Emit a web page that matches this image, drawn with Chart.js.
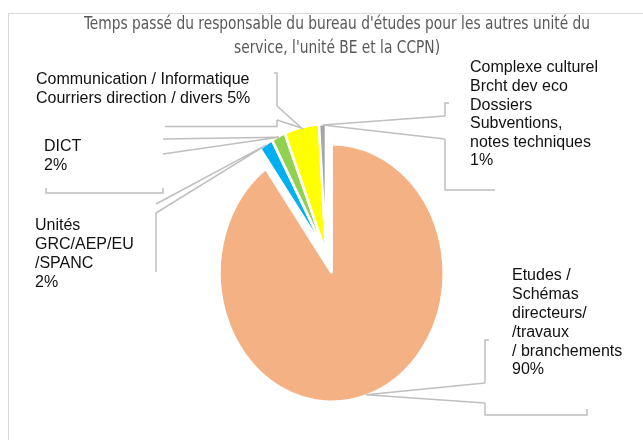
<!DOCTYPE html>
<html>
<head>
<meta charset="utf-8">
<script src="https://cdn.jsdelivr.net/npm/chart.js@4.4.0/dist/chart.umd.min.js"></script>
<style>
  html, body { margin: 0; padding: 0; background: #ffffff; }
</style>
</head>
<body>
<canvas id="chart_temps_be" width="643" height="440"></canvas>
<script>
// slices, clockwise from 12 o'clock
const categories = [
  "Etudes / Schémas directeurs/ /travaux / branchements",
  "Unités GRC/AEP/EU /SPANC",
  "DICT",
  "Communication / Informatique Courriers direction / divers",
  "Complexe culturel Brcht dev eco Dossiers Subventions, notes techniques"
];
const percentValues = [90, 2, 2, 5, 1];
// label text as it is broken in the callouts (percent is added from the data)
const labelLines = [
  ["Etudes /", "Schémas", "directeurs/", "/travaux", "/ branchements"],
  ["Unités", "GRC/AEP/EU", "/SPANC"],
  ["DICT"],
  ["Communication / Informatique", "Courriers direction / divers"],
  ["Complexe culturel", "Brcht dev eco", "Dossiers", "Subventions,", "notes techniques"]
];
const pctOnLastLine = [false, false, false, true, false];
const titleLines = [
  "Temps passé du responsable du bureau d'études pour les autres unité du",
  "service, l'unité BE et la CCPN)"
];

const sliceColors = ["#F4B183", "#00B0F0", "#92D050", "#FFFF00", "#A5A5A5"];

// callout boxes (Excel style wedge callouts), only the visible bits of the frame
const callouts = [
  { x: 512, y: 276, step: 18.8,
    before: [[489, 340], [485, 340], [485, 383]],
    after: [[485, 403], [485, 415], [587, 415], [587, 409]] },
  { x: 35, y: 226, step: 18.7,
    before: [[156, 204]],
    after: [[156, 213], [156, 272]] },
  { x: 44, y: 147, step: 18.5,
    before: [[163, 139]],
    after: [[163, 154]],
    extra: [[46, 188], [46, 193], [163, 193], [163, 188]] },
  { x: 36, y: 80, step: 19,
    before: [[274, 73], [277, 73], [277, 106]],
    after: [[277, 120], [277, 126.5], [165, 126.5]] },
  { x: 470, y: 68, step: 18.6,
    before: [[449, 103], [445, 103], [445, 116]],
    after: [[445, 139], [445, 190], [495, 190]] }
];

function polyline(c, pts) {
  if (!pts || pts.length < 2) return;
  c.beginPath();
  c.moveTo(pts[0][0], pts[0][1]);
  for (let k = 1; k < pts.length; k++) c.lineTo(pts[k][0], pts[k][1]);
  c.stroke();
}

const pieExtras = {
  id: "pieExtras",
  // explode slices: shift the arc centre along its bisector
  afterDatasetUpdate(chart, args, opts) {
    args.meta.data.forEach((arc, i) => {
      const d = opts.explode[i] || 0;
      if (!d) return;
      const mid = (arc.startAngle + arc.endAngle) / 2;
      arc.x += Math.cos(mid) * d;
      arc.y += Math.sin(mid) * d;
    });
  },
  // the original pie is a bit narrower than tall
  beforeDatasetsDraw(chart, args, opts) {
    const c = chart.ctx;
    const cx = (chart.chartArea.left + chart.chartArea.right) / 2;
    c.save();
    c.translate(cx, 0);
    c.scale(opts.squeezeX, 1);
    c.translate(-cx, 0);
  },
  afterDatasetsDraw(chart) {
    chart.ctx.restore();
  },
  afterDraw(chart, args, opts) {
    const c = chart.ctx;
    const cx = (chart.chartArea.left + chart.chartArea.right) / 2;
    const meta = chart.getDatasetMeta(0);
    const values = chart.data.datasets[0].data;

    c.save();
    // outer frame
    c.strokeStyle = "#d9d9d9";
    c.lineWidth = 1;
    c.strokeRect(8.5, 13.5, 700, 500);

    // title, condensed
    c.fillStyle = "#595959";
    c.font = "17px 'Liberation Sans Narrow', 'DejaVu Sans Condensed', 'Liberation Sans', sans-serif";
    c.textBaseline = "middle";
    c.textAlign = "center";
    const sc = Math.min(1, 506 / c.measureText(titleLines[0]).width);
    titleLines.forEach((t, k) => {
      c.save();
      c.translate(337, 25 + k * 24);
      c.scale(sc, 1);
      c.fillText(t, 0, 0);
      c.restore();
    });

    // callouts
    c.strokeStyle = "#bfbfbf";
    c.lineWidth = 1.5;
    c.lineJoin = "miter";
    meta.data.forEach((arc, i) => {
      const co = callouts[i];
      const mid = (arc.startAngle + arc.endAngle) / 2;
      const r = arc.outerRadius - 1;
      const tip = [cx + (arc.x + Math.cos(mid) * r - cx) * opts.squeezeX, arc.y + Math.sin(mid) * r];
      const b0 = co.before[co.before.length - 1];
      const a0 = co.after[0];
      polyline(c, co.before);
      polyline(c, [b0, tip, a0]);
      polyline(c, co.after);
      polyline(c, co.extra);
    });

    // label text
    c.fillStyle = "#111111";
    c.font = "16px 'Liberation Sans', Arial, sans-serif";
    c.textAlign = "left";
    c.textBaseline = "middle";
    labelLines.forEach((lines, i) => {
      const co = callouts[i];
      const txt = lines.slice();
      const pct = values[i] + "%";
      if (pctOnLastLine[i]) txt[txt.length - 1] += " " + pct;
      else txt.push(pct);
      txt.forEach((t, k) => c.fillText(t, co.x, co.y + k * co.step));
    });
    c.restore();
  }
};

const ctx = document.getElementById("chart_temps_be").getContext("2d");
const myChart = new Chart(ctx, {
  type: "pie",
  data: {
    labels: categories,
    datasets: [
      {
        data: percentValues,
        backgroundColor: sliceColors,
        borderColor: "#ffffff",
        borderWidth: 3,
        radius: 129,
        hoverOffset: 0
      }
    ]
  },
  options: {
    responsive: false,
    animation: false,
    events: [],
    layout: {
      padding: { top: 66, left: 9, right: 0, bottom: 0 }
    },
    plugins: {
      legend: { display: false },
      tooltip: { enabled: false },
      title: { display: false },
      pieExtras: {
        explode: [21, 0, 0, 0, 0],
        squeezeX: 0.869
      }
    }
  },
  plugins: [pieExtras]
});
</script>
</body>
</html>
